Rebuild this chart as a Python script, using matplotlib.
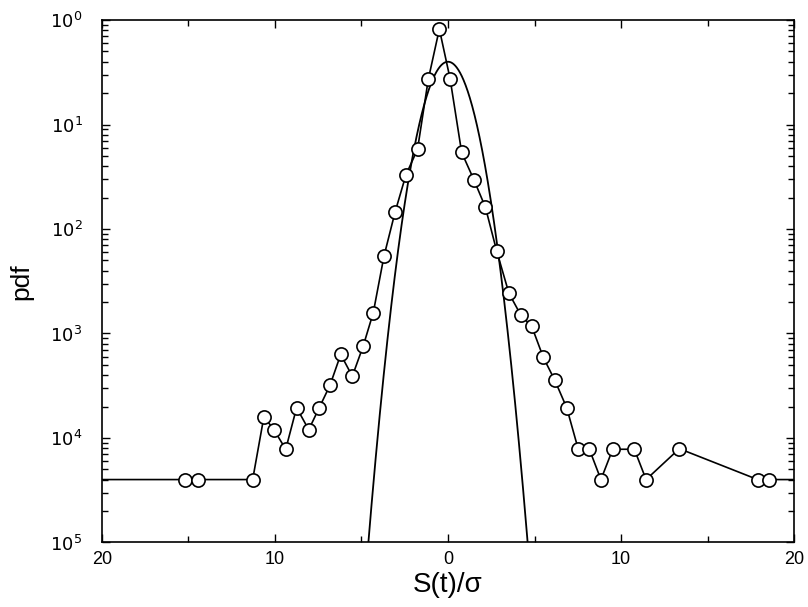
import numpy as np
import matplotlib
matplotlib.use('Agg')
import matplotlib.pyplot as plt
from matplotlib.ticker import LogLocator, FixedLocator, NullFormatter

plt.rcParams['font.family'] = ['Liberation Sans', 'DejaVu Sans']

s_vals = [-24.0, -15.2, -14.47, -11.29, -10.64, -10.06, -9.38, -8.75, -8.05, -7.44,
          -6.82, -6.2, -5.53, -4.90, -4.32, -3.70, -3.06, -2.43, -1.76, -1.14,
          -0.50, 0.12, 0.79, 1.50, 2.16, 2.81, 3.52, 4.20, 4.84, 5.51,
          6.18, 6.86, 7.53, 8.17, 8.84, 9.52, 10.77, 11.45, 13.37, 17.9,
          18.57, 24.0]
pdf_vals = [4.0e-5, 4.0e-5, 4.0e-5, 4.0e-5, 1.6e-4, 1.2e-4, 7.8e-5, 1.95e-4, 1.2e-4, 1.95e-4,
            3.2e-4, 6.3e-4, 3.9e-4, 7.6e-4, 1.58e-3, 5.5e-3, 1.45e-2, 3.3e-2, 5.8e-2, 0.27,
            0.82, 0.275, 5.4e-2, 2.95e-2, 1.62e-2, 6.2e-3, 2.43e-3, 1.51e-3, 1.17e-3, 5.9e-4,
            3.55e-4, 1.95e-4, 7.8e-5, 7.8e-5, 4.0e-5, 7.8e-5, 7.8e-5, 4.0e-5, 7.9e-5, 4.0e-5,
            4.0e-5, 4.0e-5]

# reference gaussian (zero mean, unit variance)
gauss_mu = 0.0
gauss_sigma = 1.0

x_ticks = [-20, -10, 0, 10, 20]
x_labels = ['20', '10', '0', '10', '20']
y_ticks = [1e0, 1e-1, 1e-2, 1e-3, 1e-4, 1e-5]
y_labels = ['$10^0$', '$10^1$', '$10^2$', '$10^3$', '$10^4$', '$10^5$']

fig = plt.figure(figsize=(8.08, 6.07), dpi=100)
ax = fig.add_axes([0.1262, 0.1063, 0.8565, 0.8607])

xs = np.linspace(-20, 20, 2001)
g = np.exp(-0.5 * ((xs - gauss_mu) / gauss_sigma) ** 2) / (gauss_sigma * np.sqrt(2 * np.pi))
ax.plot(xs, g, color='black', lw=1.3)

ax.plot(s_vals, pdf_vals, color='black', lw=1.2, marker='o', ms=9.5,
        mfc='white', mec='black', mew=1.2)

ax.set_yscale('log')
ax.set_xlim(-20, 20)
ax.set_ylim(1e-5, 1e0)

ax.set_xticks(x_ticks)
ax.set_xticklabels(x_labels)
ax.xaxis.set_minor_locator(FixedLocator([-15, -5, 5, 15]))
ax.set_yticks(y_ticks)
ax.set_yticklabels(y_labels)
ax.yaxis.set_minor_locator(LogLocator(base=10, subs=np.arange(2, 10)))
ax.yaxis.set_minor_formatter(NullFormatter())

ax.tick_params(which='both', direction='in', top=True, right=True, width=1.0)
ax.tick_params(which='major', length=6)
ax.tick_params(which='minor', length=4)
ax.tick_params(axis='x', labelsize=13, pad=6)
ax.tick_params(axis='y', labelsize=13, pad=14)

for sp in ax.spines.values():
    sp.set_linewidth(1.2)

ax.set_xlabel('S(t)/σ', fontsize=20, labelpad=3)
ax.set_ylabel('pdf', fontsize=19, labelpad=12)

fig.savefig('out.png', dpi=100)
